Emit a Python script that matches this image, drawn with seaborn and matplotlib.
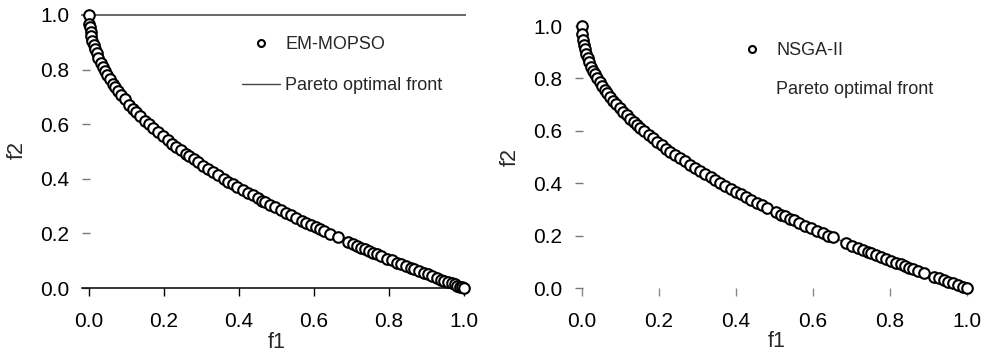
import matplotlib
matplotlib.use("Agg")
import matplotlib.pyplot as plt
from matplotlib.lines import Line2D
import seaborn as sns
import pandas as pd

# Non-dominated solutions found by EM-MOPSO
em_f1 = [0.000, 0.001, 0.002, 0.004, 0.006, 0.009, 0.012, 0.016, 0.020, 0.025,
         0.031, 0.036, 0.042, 0.049, 0.055, 0.063, 0.070, 0.078, 0.086, 0.095,
         0.108, 0.118, 0.126, 0.137, 0.150, 0.160, 0.172, 0.185, 0.197, 0.210,
         0.222, 0.233, 0.245, 0.258, 0.268, 0.280, 0.292, 0.305, 0.318, 0.332,
         0.345, 0.360, 0.372, 0.383, 0.396, 0.410, 0.425, 0.437, 0.450, 0.462,
         0.470, 0.483, 0.497, 0.512, 0.525, 0.538, 0.552, 0.567, 0.580, 0.593,
         0.605, 0.615, 0.628, 0.643, 0.663, 0.690, 0.705, 0.715, 0.726, 0.736,
         0.746, 0.757, 0.768, 0.780, 0.795, 0.808, 0.822, 0.833, 0.845, 0.858,
         0.868, 0.880, 0.893, 0.903, 0.915, 0.927, 0.938, 0.948, 0.958, 0.967,
         0.975, 0.982, 0.990, 0.996, 1.000]
em_f2 = [1.000, 0.968, 0.955, 0.937, 0.923, 0.905, 0.890, 0.874, 0.859, 0.842,
         0.824, 0.810, 0.795, 0.779, 0.765, 0.749, 0.735, 0.721, 0.707, 0.692,
         0.671, 0.656, 0.645, 0.630, 0.613, 0.600, 0.585, 0.570, 0.556, 0.542,
         0.529, 0.517, 0.505, 0.492, 0.482, 0.471, 0.460, 0.448, 0.436, 0.424,
         0.413, 0.400, 0.390, 0.381, 0.371, 0.360, 0.348, 0.339, 0.329, 0.320,
         0.314, 0.305, 0.295, 0.284, 0.275, 0.267, 0.257, 0.247, 0.238, 0.230,
         0.222, 0.216, 0.208, 0.198, 0.186, 0.169, 0.160, 0.154, 0.148, 0.142,
         0.136, 0.130, 0.124, 0.117, 0.108, 0.101, 0.093, 0.087, 0.081, 0.074,
         0.068, 0.062, 0.055, 0.050, 0.043, 0.037, 0.031, 0.026, 0.021, 0.017,
         0.013, 0.009, 0.005, 0.002, 0.000]

# Non-dominated solutions found by NSGA-II
ns_f1 = [0.000, 0.001, 0.003, 0.005, 0.008, 0.011, 0.015, 0.019, 0.024, 0.029,
         0.034, 0.040, 0.046, 0.052, 0.059, 0.066, 0.074, 0.081, 0.089, 0.098,
         0.107, 0.116, 0.125, 0.134, 0.143, 0.152, 0.162, 0.173, 0.184, 0.195,
         0.207, 0.219, 0.230, 0.242, 0.255, 0.267, 0.280, 0.293, 0.306, 0.320,
         0.334, 0.346, 0.358, 0.372, 0.386, 0.400, 0.413, 0.425, 0.440, 0.455,
         0.468, 0.480, 0.505, 0.518, 0.528, 0.540, 0.551, 0.565, 0.580, 0.595,
         0.610, 0.625, 0.640, 0.652, 0.687, 0.702, 0.716, 0.730, 0.742, 0.752,
         0.765, 0.777, 0.790, 0.802, 0.815, 0.828, 0.840, 0.850, 0.860, 0.872,
         0.888, 0.915, 0.928, 0.940, 0.952, 0.965, 0.978, 0.990, 1.000]
ns_f2 = [1.000, 0.968, 0.945, 0.929, 0.911, 0.895, 0.878, 0.862, 0.845, 0.830,
         0.816, 0.800, 0.786, 0.772, 0.757, 0.743, 0.728, 0.715, 0.702, 0.687,
         0.673, 0.659, 0.646, 0.634, 0.622, 0.610, 0.598, 0.584, 0.571, 0.558,
         0.545, 0.532, 0.520, 0.508, 0.495, 0.483, 0.471, 0.459, 0.447, 0.434,
         0.422, 0.412, 0.402, 0.390, 0.379, 0.368, 0.357, 0.348, 0.337, 0.325,
         0.316, 0.307, 0.289, 0.280, 0.273, 0.265, 0.258, 0.248, 0.238, 0.229,
         0.219, 0.209, 0.200, 0.193, 0.171, 0.162, 0.154, 0.146, 0.139, 0.133,
         0.125, 0.118, 0.111, 0.104, 0.097, 0.090, 0.083, 0.078, 0.073, 0.066,
         0.058, 0.043, 0.037, 0.030, 0.024, 0.018, 0.011, 0.005, 0.000]

# Reference Pareto-optimal front
front_f1 = [0.00, 0.01, 0.04, 0.09, 0.16, 0.25, 0.36, 0.49, 0.64, 0.81, 1.00]
front_f2 = [1.00, 0.90, 0.80, 0.70, 0.60, 0.50, 0.40, 0.30, 0.20, 0.10, 0.00]

ticks = [0.0, 0.2, 0.4, 0.6, 0.8, 1.0]
tick_labels = ["0.0", "0.2", "0.4", "0.6", "0.8", "1.0"]

sns.set_theme(style="white")
plt.rcParams["font.family"] = ["Liberation Sans", "DejaVu Sans"]

W, H = 987, 360
fig = plt.figure(figsize=(W / 100, H / 100), dpi=100)


def px_axes(x0, x1, y_top, y_bot):
    return fig.add_axes([x0 / W, 1 - y_bot / H, (x1 - x0) / W, (y_bot - y_top) / H])


ax1 = px_axes(82, 465, 15, 288)
ax2 = px_axes(575, 970, 26, 288)

front = pd.DataFrame({"f1": front_f1, "f2": front_f2})
panels = [
    (ax1, pd.DataFrame({"f1": em_f1, "f2": em_f2}), (-0.0187, 1.003), "#444444"),
    (ax2, pd.DataFrame({"f1": ns_f1, "f2": ns_f2}), (-0.018, 1.008), "none"),
]

legend_handles = {}
for ax, df, xlim, line_col in panels:
    sns.lineplot(data=front, x="f1", y="f2", ax=ax, sort=False, color="#444444",
                 linewidth=1.0, zorder=1, legend=False)
    sns.scatterplot(data=df, x="f1", y="f2", ax=ax, marker="o", s=58,
                    facecolor="white", edgecolor="black", linewidth=1.5,
                    zorder=3, clip_on=False, legend=False)
    ax.set_xlim(*xlim)
    ax.set_ylim(0, 1)
    ax.set_xticks(ticks)
    ax.set_xticklabels(tick_labels)
    ax.set_yticks(ticks)
    ax.set_yticklabels(tick_labels)
    ax.tick_params(axis="both", labelsize=15, colors="black")
    ax.tick_params(axis="y", direction="in", length=6, width=1.0, pad=9,
                   color="#777777", left=True)
    ax.tick_params(axis="x", direction="out", length=6, width=1.0, pad=11,
                   bottom=True)
    ax.set_xlabel("f1", fontsize=15.5)
    ax.set_ylabel("f2", fontsize=15.5)
    ax.xaxis.label.set_va("center")
    ax.yaxis.label.set_va("center")

    legend_handles[ax] = [
        Line2D([], [], linestyle="none", marker="o", markersize=5,
               markerfacecolor="white", markeredgecolor="black", markeredgewidth=1.5),
        Line2D([], [], color=line_col, linewidth=1.0),
    ]

for side in ["left", "right"]:
    ax1.spines[side].set_visible(False)
    ax2.spines[side].set_visible(False)
ax1.spines["top"].set_color("#666666")
ax1.spines["top"].set_linewidth(1.4)
ax1.spines["bottom"].set_color("black")
ax1.spines["bottom"].set_linewidth(1.1)
ax1.tick_params(axis="x", color="black")
ax2.spines["top"].set_visible(False)
ax2.spines["bottom"].set_visible(False)
ax2.tick_params(axis="x", color="#888888")

ax1.xaxis.set_label_coords(0.509, -0.198)
ax1.yaxis.set_label_coords(-0.17, 0.505)
ax2.xaxis.set_label_coords(0.511, -0.206)
ax2.yaxis.set_label_coords(-0.165, 0.5)

legend_spec = [
    (ax1, ["EM-MOPSO", "Pareto optimal front"], (242, 36), 1.35),
    (ax2, ["NSGA-II", "Pareto optimal front"], (733, 42), 1.2),
]
for ax, labels, (lx, ly), spacing in legend_spec:
    ax.legend(handles=legend_handles[ax], labels=labels, loc="upper left",
              bbox_to_anchor=(lx / W, 1 - ly / H), bbox_transform=fig.transFigure,
              frameon=False, fontsize=13, handlelength=2.1, handletextpad=0.3,
              labelspacing=spacing, borderpad=0, borderaxespad=0)

fig.savefig("out.png", dpi=100, facecolor="white")
